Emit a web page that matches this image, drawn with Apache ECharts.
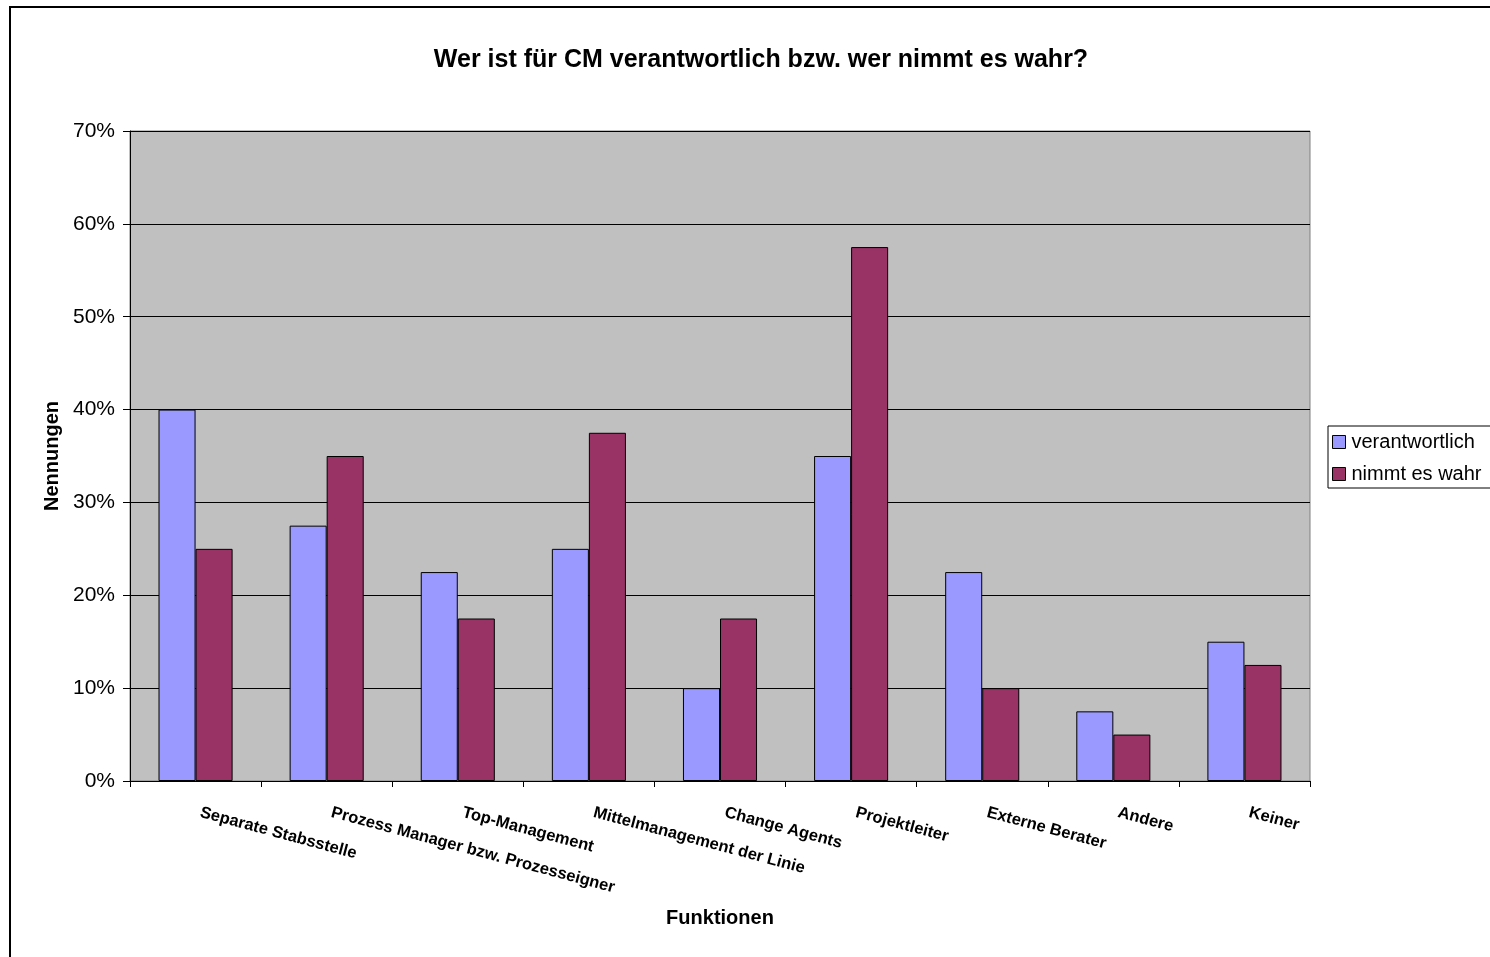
<!DOCTYPE html>
<html><head><meta charset="utf-8">
<script src="https://cdn.jsdelivr.net/npm/echarts@6/dist/echarts.min.js"></script>
<style>html,body{margin:0;padding:0;background:#fff}#c{width:1490px;height:957px}</style>
</head><body><div id="c"></div>
<script>
const categories = ["Separate Stabsstelle","Prozess Manager bzw. Prozesseigner","Top-Management","Mittelmanagement der Linie","Change Agents","Projektleiter","Externe Berater","Andere","Keiner"];
const verantwortlich = [40, 27.5, 22.5, 25, 10, 35, 22.5, 7.5, 15];
const nimmtEsWahr = [25, 35, 17.5, 37.5, 17.5, 57.5, 10, 5, 12.5];
const yTicks = [0, 10, 20, 30, 40, 50, 60, 70];

const F = '"Liberation Sans", Arial, sans-serif';
const chart = echarts.init(document.getElementById('c'));
chart.setOption({
  animation: false,
  backgroundColor: '#fff',
  graphic: [{type:'rect', shape:{x:10, y:7, width:1500, height:980}, style:{fill:'none', stroke:'#000', lineWidth:2}, z:-1}],
  title: {text: 'Wer ist für CM verantwortlich bzw. wer nimmt es wahr?', left: 756, top: 43, textAlign: 'center',
    textStyle: {fontFamily: F, fontSize: 25, fontWeight: 'bold', color: '#000'}},
  legend: {orient: 'vertical', left: 1328, top: 426, padding: [6, 12, 4, 4], itemGap: 12,
    itemWidth: 13, itemHeight: 13, icon: 'rect', borderColor: '#000', borderWidth: 1, backgroundColor: '#fff',
    itemStyle: {borderColor: '#000', borderWidth: 1},
    textStyle: {fontFamily: F, fontSize: 20, color: '#000', padding: [0,0,0,1]},
    data: ['verantwortlich', 'nimmt es wahr']},
  grid: {left: 130, right: 180, top: 131, bottom: 176, show: true, backgroundColor: '#C0C0C0', borderColor: '#808080', borderWidth: 1},
  xAxis: {type: 'category', data: categories,
    name: 'Funktionen', nameLocation: 'middle', nameGap: 127,
    nameTextStyle: {fontFamily: F, fontSize: 20, fontWeight: 'bold', color: '#000'},
    axisLine: {lineStyle: {color: '#000'}},
    axisTick: {show: true, length: 6, lineStyle: {color: '#000'}},
    axisLabel: {rotate: -15, interval: 0, margin: 30, padding: [0,0,0,5], fontFamily: F, fontSize: 16.5, fontWeight: 'bold', color: '#000'}},
  yAxis: {type: 'value', min: 0, max: 70, interval: 10,
    name: 'Nennungen', nameLocation: 'middle', nameGap: 68,
    nameTextStyle: {fontFamily: F, fontSize: 20, fontWeight: 'bold', color: '#000'},
    axisLine: {show: true, lineStyle: {color: '#000'}},
    axisTick: {show: true, length: 7, lineStyle: {color: '#000'}},
    splitLine: {show: true, lineStyle: {color: '#000', width: 1}},
    axisLabel: {margin: 15, fontFamily: F, fontSize: 21, color: '#000',
      formatter: v => yTicks.includes(v) ? v + '%' : ''}},
  series: [
    {name: 'verantwortlich', type: 'bar', data: verantwortlich, barGap: '0%', barCategoryGap: '43.5%',
     itemStyle: {color: '#9999FF', borderColor: '#000', borderWidth: 1}},
    {name: 'nimmt es wahr', type: 'bar', data: nimmtEsWahr,
     itemStyle: {color: '#993366', borderColor: '#000', borderWidth: 1}}
  ]
});
</script></body></html>
